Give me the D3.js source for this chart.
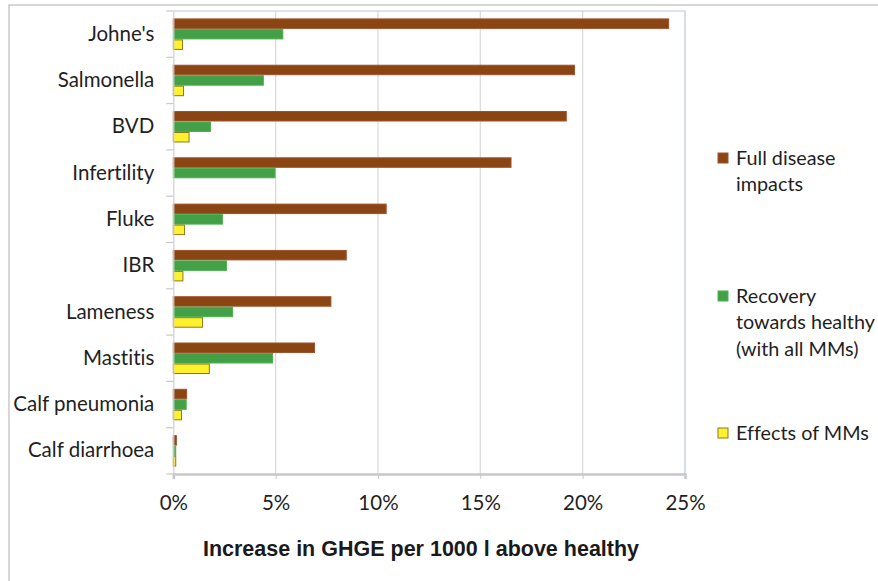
<!DOCTYPE html>
<html>
<head>
<meta charset="utf-8">
<script src="https://cdn.jsdelivr.net/npm/d3@7"></script>
<style>
  html, body { margin: 0; padding: 0; background: #fff; }
  svg { display: block; }
  text { font-family: Lato, "Open Sans", sans-serif; fill: #262626; font-variant-ligatures: none; }
</style>
</head>
<body>
<svg id="chart" width="878" height="581"></svg>
<script>
const categories = ["Johne's", "Salmonella", "BVD", "Infertility", "Fluke", "IBR", "Lameness", "Mastitis", "Calf pneumonia", "Calf diarrhoea"];
const seriesNames = ["Full disease impacts", "Recovery towards healthy (with all MMs)", "Effects of MMs"];
const fullDisease = [24.2, 19.6, 19.2, 16.5, 10.4, 8.45, 7.7, 6.9, 0.65, 0.15];
const recovery    = [5.35, 4.4, 1.82, 4.97, 2.4, 2.6, 2.9, 4.85, 0.63, 0.12];
const effectsMMs  = [0.45, 0.5, 0.77, 0.0, 0.55, 0.47, 1.43, 1.76, 0.4, 0.12];
const xTicks = [0, 5, 10, 15, 20, 25];
const legendLines = [["Full disease", "impacts"], ["Recovery", "towards healthy", "(with all MMs)"], ["Effects of MMs"]];
const xTitle = "Increase in GHGE per 1000 l above healthy";

const fills = ["#8b4513", "#43a047", "#fff12e"];
const strokes = ["#a0522d", "#4caf50", "#8c7a1e"];
const labelSize = 20.5;
const legendSize = 19.8;
const textColor = "#1f1f1f";

const svg = d3.select("#chart");
const plot = { left: 173.3, right: 685, top: 11, bottom: 474 };

// outer chart border
svg.append("rect").attr("x", 9).attr("y", 5).attr("width", 900).attr("height", 600)
  .attr("fill", "none").attr("stroke", "#c9c9c9").attr("stroke-width", 1.5);

const x = d3.scaleLinear().domain([0, 25]).range([plot.left, plot.right]);
const y0 = d3.scaleBand().domain(categories).range([plot.top, plot.bottom]).paddingInner(0.32).paddingOuter(0.16);
const y1 = d3.scaleBand().domain(d3.range(3)).range([0, y0.bandwidth()]);

// gridlines
svg.append("g").selectAll("line").data(xTicks.slice(1, -1)).join("line")
  .attr("x1", d => x(d)).attr("x2", d => x(d))
  .attr("y1", plot.top).attr("y2", plot.bottom)
  .attr("stroke", "#d9d9d9").attr("stroke-width", 1.2);

// plot border top/right (light blue)
svg.append("path")
  .attr("d", `M${plot.left},${plot.top}H${plot.right}V${plot.bottom}`)
  .attr("fill", "none").attr("stroke", "#b8c8de").attr("stroke-width", 1.2);

// bars
const data = categories.map((c, i) => ({ c, vals: [fullDisease[i], recovery[i], effectsMMs[i]] }));
const groups = svg.append("g").selectAll("g").data(data).join("g")
  .attr("transform", d => `translate(0,${y0(d.c)})`);
groups.selectAll("rect").data(d => d.vals.map((v, k) => ({ v, k }))).join("rect")
  .attr("x", x(0))
  .attr("y", d => y1(d.k) + 0.5)
  .attr("height", y1.bandwidth() - 1)
  .attr("width", d => Math.max(0, x(d.v) - x(0)))
  .attr("fill", d => fills[d.k])
  .attr("stroke", d => d.v > 0 ? strokes[d.k] : "none")
  .attr("stroke-width", 1);

// x axis
const xAxis = d3.axisBottom(x).tickValues(xTicks).tickFormat(d => d + "%").tickSize(5).tickPadding(16);
const gx = svg.append("g").attr("transform", `translate(0,${plot.bottom})`).call(xAxis);
gx.select(".domain").attr("stroke", "#c8c8c8").attr("stroke-width", 2.5);
gx.selectAll(".tick line").attr("stroke", "#c8c8c8");
gx.selectAll("text").attr("font-size", labelSize).style("fill", textColor).style("font-family", "Lato");

// y axis
const yAxis = d3.axisLeft(y0).tickSize(0).tickPadding(19);
const gy = svg.append("g").attr("transform", `translate(${plot.left},0)`).call(yAxis);
gy.select(".domain").attr("stroke", "#d0d0d0").attr("stroke-width", 1.2);
gy.selectAll("text").attr("font-size", labelSize).style("fill", textColor).style("font-family", "Lato");
// boundary ticks
const step = y0.step();
svg.append("g").selectAll("line").data(d3.range(categories.length + 1)).join("line")
  .attr("x1", plot.left - 7).attr("x2", plot.left)
  .attr("y1", i => plot.top + i * step).attr("y2", i => plot.top + i * step)
  .attr("stroke", "#c8c8c8").attr("stroke-width", 1.2);

// x axis title
svg.append("text").attr("x", 421).attr("y", 556)
  .attr("text-anchor", "middle").attr("font-size", 21.5).attr("font-weight", "bold")
  .style("font-family", "'Liberation Sans', Arial, sans-serif").style("fill", "#1a1a1a")
  .text(xTitle);

// legend
const legendY = [158, 296, 433];
const lg = svg.append("g");
legendLines.forEach((lines, k) => {
  lg.append("rect").attr("x", 718).attr("y", legendY[k] - 5).attr("width", 10).attr("height", 10)
    .attr("fill", fills[k]).attr("stroke", strokes[k]).attr("stroke-width", 1);
  const t = lg.append("text").attr("x", 736).attr("y", legendY[k])
    .attr("font-size", legendSize).style("fill", textColor).attr("data-series", seriesNames[k]);
  lines.forEach((l, j) => {
    t.append("tspan").attr("x", 736).attr("dy", j === 0 ? "0.35em" : 26.5).text(l);
  });
});
</script>
</body>
</html>
